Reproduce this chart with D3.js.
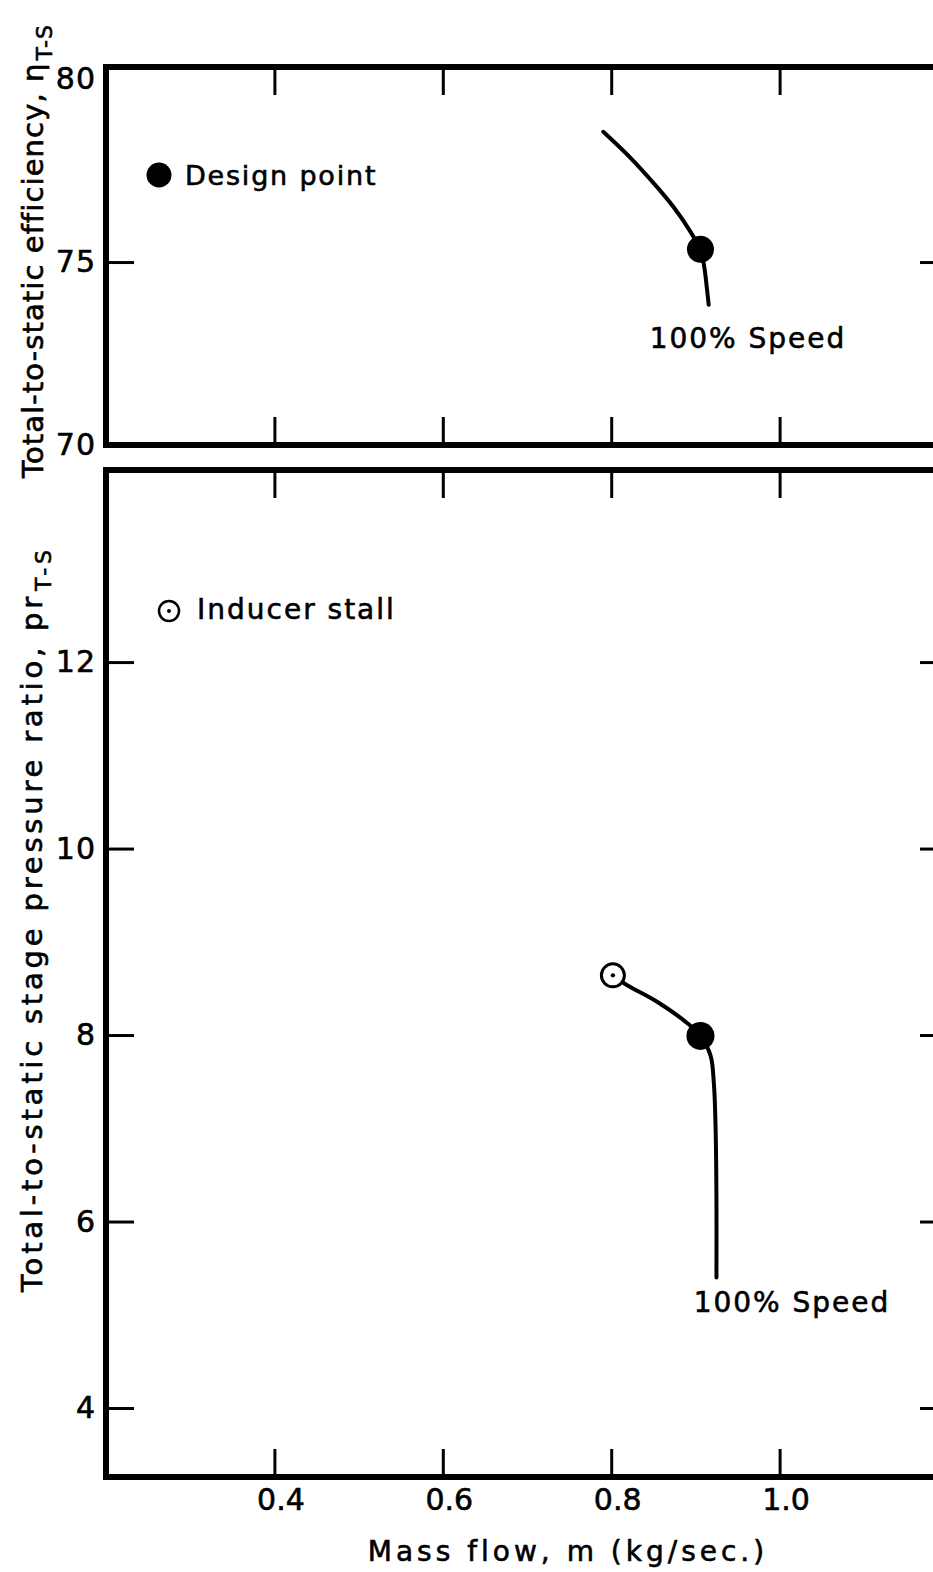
<!DOCTYPE html>
<html>
<head>
<meta charset="utf-8">
<script src="https://cdn.jsdelivr.net/npm/d3@7"></script>
<style>
  html, body { margin: 0; padding: 0; background: #fff; }
  svg { display: block; }
  text { font-family: "DejaVu Sans", sans-serif; fill: #000; stroke: #000; stroke-width: 0.6px; }
</style>
</head>
<body>
<svg id="chart" width="933" height="1572"></svg>
<script>
// Mass-flow axis (shared by both panels)
const flowTicks = [0.4, 0.6, 0.8, 1.0];
const flowTickLabels = ["0.4", "0.6", "0.8", "1.0"];

// Efficiency panel
const effTicks = [70, 75, 80];
const effTickLabels = ["70", "75", "80"];
const effFlow  = [0.7906, 0.8223, 0.8540, 0.8738, 0.8916, 0.9055, 0.9105, 0.9134, 0.9158];
const effValue = [78.56, 77.86, 77.06, 76.51, 75.92, 75.35, 74.87, 74.33, 73.83];

// Pressure-ratio panel
const prTicks = [4, 6, 8, 10, 12];
const prTickLabels = ["4", "6", "8", "10", "12"];
const prFlow  = [0.802, 0.818, 0.854, 0.890, 0.906, 0.918, 0.922, 0.924, 0.925, 0.925];
const prValue = [8.64, 8.54, 8.36, 8.13, 7.99, 7.78, 7.47, 6.99, 6.24, 5.40];

// Marked operating points
const designFlow = 0.906, designEff = 75.35, designPr = 7.99;
const stallFlow = 0.802, stallPr = 8.64;

const svg = d3.select("#chart");

const x = d3.scaleLinear().domain([0.2, 1.2]).range([106, 948]);
const yEff = d3.scaleLinear().domain([70, 80.33]).range([445, 67]);
const yPr = d3.scaleLinear().domain([3.26, 14.06]).range([1477, 470]);

const FRAME_W = 6, TICK_W = 3, TICK_LEN = 28;

function panel(y, yTicks, yLabels, inner) {
  const [y0, y1] = y.range();
  const g = svg.append("g");
  // inward ticks on all four sides
  const styleTicks = sel => {
    sel.select(".domain").remove();
    sel.selectAll("line").attr("stroke", "#000").attr("stroke-width", TICK_W);
    sel.selectAll("text").remove();
  };
  g.append("g").attr("transform", `translate(0,${y1})`)
    .call(d3.axisBottom(x).tickValues(flowTicks).tickSize(TICK_LEN)).call(styleTicks);
  g.append("g").attr("transform", `translate(0,${y0})`)
    .call(d3.axisTop(x).tickValues(flowTicks).tickSize(TICK_LEN)).call(styleTicks);
  g.append("g").attr("transform", `translate(${x.range()[0]},0)`)
    .call(d3.axisRight(y).tickValues(inner).tickSize(TICK_LEN)).call(styleTicks);
  g.append("g").attr("transform", `translate(${x.range()[1]},0)`)
    .call(d3.axisLeft(y).tickValues(inner).tickSize(TICK_LEN)).call(styleTicks);
  // tick labels
  const lab = g.append("g").attr("transform", `translate(${x.range()[0]},0)`)
    .call(d3.axisLeft(y).tickValues(yTicks).tickSize(0).tickPadding(10)
      .tickFormat((d, i) => yLabels[i]));
  lab.select(".domain").remove();
  lab.selectAll("text").attr("font-size", 30).attr("font-family", "DejaVu Sans")
    .attr("letter-spacing", 1);
  // frame
  g.append("rect")
    .attr("x", x.range()[0]).attr("y", y1)
    .attr("width", x.range()[1] - x.range()[0]).attr("height", y0 - y1)
    .attr("fill", "none").attr("stroke", "#000").attr("stroke-width", FRAME_W);
  return g;
}

panel(yEff, effTicks, effTickLabels, [75]);
panel(yPr, prTicks, prTickLabels, [4, 6, 8, 10, 12]);

// x tick labels under the lower panel
const xl = svg.append("g").attr("transform", `translate(0,${yPr.range()[0]})`)
  .call(d3.axisBottom(x).tickValues(flowTicks).tickSize(0).tickPadding(12)
    .tickFormat((d, i) => flowTickLabels[i]));
xl.select(".domain").remove();
xl.selectAll("text").attr("font-size", 30).attr("font-family", "DejaVu Sans")
  .attr("dx", 6);

// speed lines
const curveLine = (y, flows, vals) => d3.line()
  .x(i => x(flows[i])).y(i => y(vals[i]))
  .curve(d3.curveCatmullRom.alpha(0.5))(d3.range(flows.length));

svg.append("path").attr("d", curveLine(yEff, effFlow, effValue))
  .attr("fill", "none").attr("stroke", "#000").attr("stroke-width", 4).attr("stroke-linecap", "round");
svg.append("path").attr("d", curveLine(yPr, prFlow, prValue))
  .attr("fill", "none").attr("stroke", "#000").attr("stroke-width", 4).attr("stroke-linecap", "round");

// design points
svg.append("circle").attr("cx", x(designFlow)).attr("cy", yEff(designEff)).attr("r", 13.5).attr("fill", "#000");
svg.append("circle").attr("cx", x(designFlow)).attr("cy", yPr(designPr)).attr("r", 14).attr("fill", "#000");

// inducer stall point
svg.append("circle").attr("cx", x(stallFlow)).attr("cy", yPr(stallPr)).attr("r", 11.5)
  .attr("fill", "#fff").attr("stroke", "#000").attr("stroke-width", 3);
svg.append("circle").attr("cx", x(stallFlow)).attr("cy", yPr(stallPr)).attr("r", 2.2).attr("fill", "#000");

// speed-line labels
svg.append("text").attr("x", 748).attr("y", 348).attr("text-anchor", "middle")
  .attr("font-size", 28).attr("letter-spacing", 2).text("100% Speed");
svg.append("text").attr("x", 792).attr("y", 1312).attr("text-anchor", "middle")
  .attr("font-size", 28).attr("letter-spacing", 2).text("100% Speed");

// legends
svg.append("circle").attr("cx", 159).attr("cy", 175).attr("r", 12.5).attr("fill", "#000");
svg.append("text").attr("x", 185).attr("y", 185).attr("font-size", 27).attr("letter-spacing", 1.8)
  .text("Design point");
svg.append("circle").attr("cx", 169).attr("cy", 611).attr("r", 10)
  .attr("fill", "#fff").attr("stroke", "#000").attr("stroke-width", 2.5);
svg.append("circle").attr("cx", 169).attr("cy", 611).attr("r", 2).attr("fill", "#000");
svg.append("text").attr("x", 197).attr("y", 619).attr("font-size", 28).attr("letter-spacing", 2)
  .text("Inducer stall");

// axis titles
const t1 = svg.append("text").attr("transform", "translate(43,478) rotate(-90)")
  .attr("font-size", 29).attr("letter-spacing", 1.1);
t1.append("tspan").text("Total-to-static efficiency, η");
t1.append("tspan").attr("font-size", 22).attr("dx", 2).attr("dy", 9).text("T-S");

const t2 = svg.append("text").attr("transform", "translate(42,1292) rotate(-90)")
  .attr("font-size", 29).attr("letter-spacing", 3.8);
t2.append("tspan").text("Total-to-static stage pressure ratio, pr");
t2.append("tspan").attr("font-size", 22).attr("dx", 2).attr("dy", 9).text("T-S");

svg.append("text").attr("x", 568).attr("y", 1561).attr("text-anchor", "middle")
  .attr("font-size", 28).attr("letter-spacing", 4).text("Mass flow, m (kg/sec.)");
</script>
</body>
</html>
